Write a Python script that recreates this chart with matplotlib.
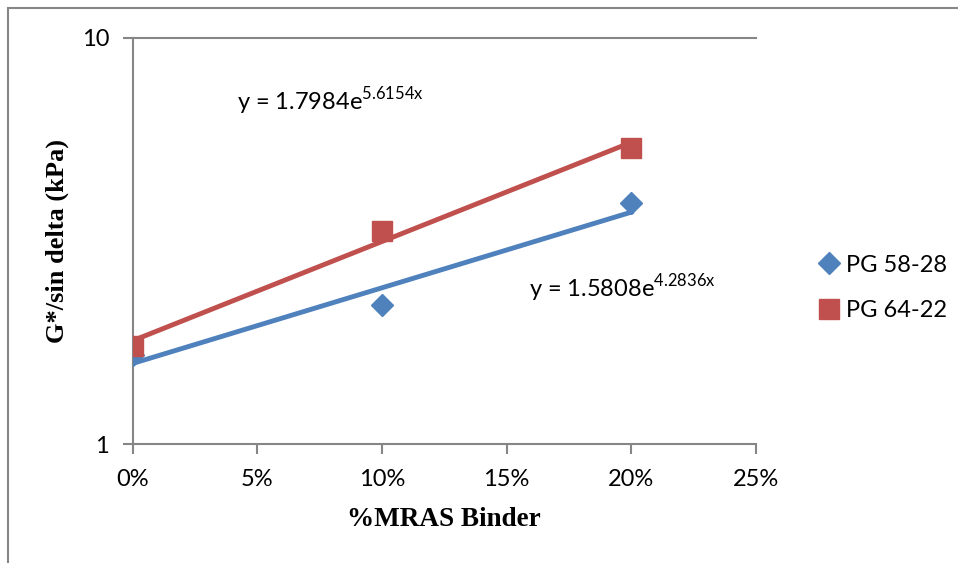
import numpy as np
import matplotlib.pyplot as plt
from matplotlib.patches import Rectangle
from matplotlib.ticker import FixedLocator, NullLocator

plt.rcParams['font.family'] = ['Lato', 'DejaVu Sans']

# data
mras = [0.0, 0.10, 0.20]
pg5828 = [1.662, 2.20, 3.915]
pg6422 = [1.744, 3.354, 5.36]
# exponential trendline coefficients y = a*e^(b*x)
fit_5828 = (1.5808, 4.2836)
fit_6422 = (1.7984, 5.6154)
xticks = [0.0, 0.05, 0.10, 0.15, 0.20, 0.25]
xtick_labels = ['0%', '5%', '10%', '15%', '20%', '25%']

blue = '#4F81BD'
red = '#C0504D'
axis_gray = '#868686'

fig = plt.figure(figsize=(9.58, 5.63), dpi=100)
ax = fig.add_axes([0.1385, 0.2108, 0.789 - 0.1385, 0.933 - 0.2108])

xs = np.linspace(0, 0.20, 50)
ax.plot(xs, fit_5828[0] * np.exp(fit_5828[1] * xs), color=blue, lw=3.5, zorder=2)
ax.plot(xs, fit_6422[0] * np.exp(fit_6422[1] * xs), color=red, lw=3.5, zorder=2)
ax.plot(mras, pg5828, ls='none', marker='D', ms=11, color=blue, label='PG 58-28', zorder=3)
ax.plot(mras, pg6422, ls='none', marker='s', ms=14, color=red, label='PG 64-22', zorder=4)

ax.set_yscale('log')
ax.set_ylim(1, 10)
ax.set_xlim(0, 0.25)
ax.yaxis.set_major_locator(FixedLocator([1, 10]))
ax.yaxis.set_minor_locator(NullLocator())
ax.set_yticklabels(['1', '10'])
ax.set_xticks(xticks)
ax.set_xticklabels(xtick_labels)
ax.axhline(10, color=axis_gray, lw=1.5, clip_on=False)

for s in ['top', 'right']:
    ax.spines[s].set_visible(False)
for s in ['left', 'bottom']:
    ax.spines[s].set_color(axis_gray)
    ax.spines[s].set_linewidth(1.5)
ax.tick_params(axis='both', colors=axis_gray, labelcolor='black', labelsize=17,
               length=7, width=1.5, direction='out')
ax.tick_params(axis='x', pad=11)
ax.tick_params(axis='y', pad=10)

ax.set_xlabel('%MRAS Binder', fontsize=19.5, fontweight='bold', family='Liberation Serif', labelpad=12)
ax.set_ylabel('G*/sin delta (kPa)', fontsize=19, fontweight='bold', family='Liberation Serif', labelpad=9)

fig.text(237 / 958, 1 - 101 / 563, r'y = 1.7984e$^{\mathregular{5.6154x}}$', fontsize=17, va='center')
fig.text(529 / 958, 1 - 288 / 563, r'y = 1.5808e$^{\mathregular{4.2836x}}$', fontsize=17, va='center')

leg = fig.legend(loc='center left', bbox_to_anchor=(815 / 958, 1 - 288 / 563), frameon=False,
                 fontsize=17, handletextpad=0.1, labelspacing=1.05, handlelength=1.2,
                 borderpad=0, borderaxespad=0)

fig.patches.append(Rectangle((8 / 958, -0.1), 1.2, 1 - 8 / 563 + 0.1, transform=fig.transFigure,
                             fill=False, edgecolor=axis_gray, lw=1.5))

fig.savefig('out.png', dpi=100)
